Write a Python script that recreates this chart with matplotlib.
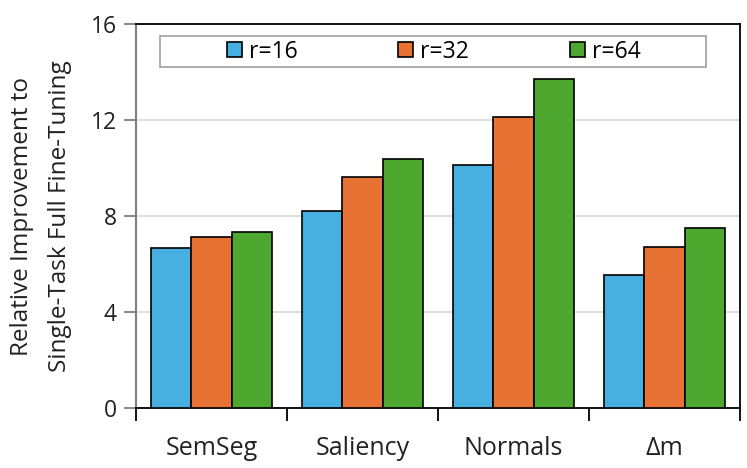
import matplotlib
matplotlib.use("Agg")
import matplotlib.pyplot as plt
from matplotlib.patches import Rectangle
import numpy as np

plt.rcParams['font.family'] = ['Open Sans', 'DejaVu Sans']

categories = ["SemSeg", "Saliency", "Normals", "Δm"]
series_names = ["r=16", "r=32", "r=64"]
r16 = [6.65, 8.22, 10.14, 5.53]
r32 = [7.12, 9.64, 12.14, 6.71]
r64 = [7.35, 10.39, 13.72, 7.51]
colors = ["#47B0E0", "#E87234", "#4EA72E"]
yticks = [0, 4, 8, 12, 16]

fig = plt.figure(figsize=(7.47, 4.68), dpi=100)
ax = fig.add_axes([136/747, 1-408/468, (740-136)/747, (408-24)/468])

x = np.arange(len(categories))
w = 0.265
for i, (vals, name, c) in enumerate(zip([r16, r32, r64], series_names, colors)):
    ax.bar(x + (i-1)*w, vals, width=w, color=c, edgecolor="black", linewidth=1.2,
           label=name, zorder=3)

ax.set_xlim(-0.5, 3.5)
ax.set_ylim(0, 16)
ax.set_yticks(yticks)
ax.set_yticklabels([str(t) for t in yticks], fontsize=16.5, color="#222222")
ax.yaxis.grid(True, color="#d9d9d9", linewidth=1.2, zorder=0)
ax.set_xticks(x)
ax.set_xticklabels(categories, fontsize=18, color="#222222")
ax.set_xticks(np.arange(-0.5, 4.0, 1.0), minor=True)
ax.tick_params(axis="x", which="major", length=0, pad=20)
ax.tick_params(axis="x", which="minor", length=9, width=1.3, color="black", direction="out")
ax.tick_params(axis="y", which="major", length=9, width=1.3, color="#7f7f7f", direction="out", pad=5)

for s in ["top", "right", "bottom"]:
    ax.spines[s].set_color("black")
    ax.spines[s].set_linewidth(1.3)
ax.spines["left"].set_color("#7f7f7f")
ax.spines["left"].set_linewidth(1.5)

ax.set_ylabel("Relative Improvement to\nSingle-Task Full Fine-Tuning", fontsize=17.5,
              color="#222222", linespacing=1.75, labelpad=13.5)

ax.add_patch(Rectangle(((160-136)/604, (408-67)/384), (706-160)/604, (67-36)/384,
                       transform=ax.transAxes, facecolor="white", edgecolor="#a6a6a6",
                       linewidth=1.3, zorder=4))
leg = ax.legend(loc="center", bbox_to_anchor=(0.493, (408-51.5)/384), ncol=3,
                frameon=False, fontsize=16.5, handlelength=0.65, handleheight=0.65,
                handletextpad=0.3, columnspacing=4.4, borderpad=0)
leg.set_zorder(5)

fig.savefig("out.png", dpi=100)
